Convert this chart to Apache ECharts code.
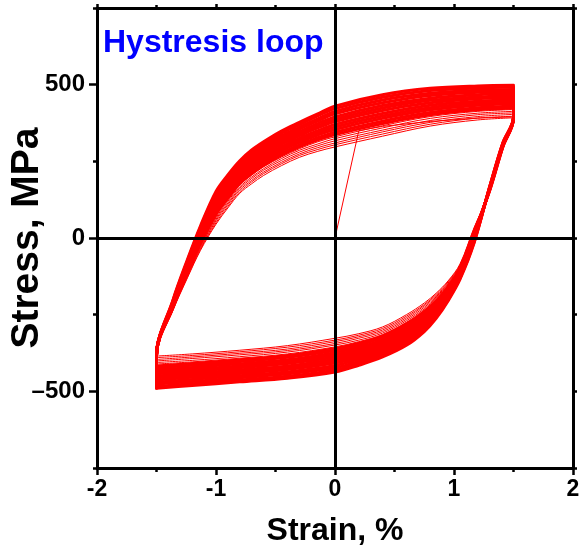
<!DOCTYPE html>
<html>
<head>
<meta charset="utf-8">
<script src="https://cdn.jsdelivr.net/npm/echarts@6/dist/echarts.min.js"></script>
<style>
  html, body { margin: 0; padding: 0; background: #fff; }
  #chart { width: 579px; height: 550px; }
</style>
</head>
<body>
<div id="chart"></div>
<script>
// ---- text ----
const titleText = 'Hystresis loop';
const xName = 'Strain, %';
const yName = 'Stress, MPa';
const yTickValues = [-500, 0, 500];

// ---- monotonic first loading from the origin ----
const initialStrain = [0, 0.2, 0.4, 0.8, 1.2, 1.5];
const initialStress = [0, 350, 364, 380, 391, 395];

// ---- strain stations of each branch ----
// rising branch: from the compressive end (-1.5 %) up to the tensile end
const strainUp = [-1.5, -1.36, -1.24, -1.13, -1.0, -0.9, -0.8, -0.7, -0.6, -0.45, -0.3, -0.15, 0, 0.4, 0.8, 1.2, 1.5];
// falling branch: from the tensile end (+1.5 %) down to the compressive end
const strainDown = [1.5, 1.41, 1.3, 1.17, 1.05, 0.95, 0.85, 0.75, 0.6, 0.4, 0.2, 0, -0.4, -0.8, -1.2, -1.5];

// ---- stress (MPa) per cycle, cycle 1 first ----
const stressDown = [
  [388, 290, 150, 35, -85, -140, -180, -212, -250, -290, -312, -327, -351, -366, -378, -385],
  [388, 291, 151, 33, -88, -143, -184, -217, -255, -295, -317, -333, -356, -371, -383, -390],
  [389, 292, 152, 30, -90, -147, -188, -221, -260, -300, -322, -338, -362, -376, -388, -396],
  [389, 293, 153, 28, -93, -150, -192, -226, -265, -305, -327, -344, -367, -381, -393, -401],
  [389, 294, 154, 25, -95, -153, -196, -231, -270, -310, -333, -349, -372, -387, -399, -406],
  [390, 295, 155, 23, -98, -156, -201, -235, -275, -315, -338, -355, -378, -392, -404, -411],
  [390, 296, 155, 20, -100, -160, -205, -240, -280, -319, -343, -360, -383, -397, -409, -417],
  [391, 297, 156, 17, -103, -163, -210, -246, -286, -325, -349, -367, -389, -403, -415, -423],
  [391, 299, 158, 14, -107, -168, -215, -252, -293, -332, -356, -374, -397, -410, -422, -430],
  [391, 300, 159, 11, -110, -172, -220, -258, -299, -338, -363, -381, -403, -417, -429, -436],
  [392, 301, 160, 8, -113, -176, -225, -263, -305, -344, -369, -388, -409, -423, -435, -443],
  [392, 302, 161, 4, -116, -180, -231, -270, -312, -351, -376, -395, -417, -430, -442, -450],
  [393, 304, 162, 1, -119, -184, -236, -275, -318, -357, -382, -402, -423, -436, -448, -456],
  [393, 305, 163, -2, -122, -188, -241, -281, -324, -363, -388, -408, -429, -442, -454, -463],
  [394, 306, 165, -6, -126, -193, -246, -287, -331, -369, -395, -416, -437, -449, -461, -470],
  [394, 307, 166, -9, -129, -197, -251, -293, -337, -375, -402, -423, -443, -456, -468, -476],
  [395, 309, 167, -12, -132, -201, -257, -299, -344, -382, -409, -430, -451, -463, -475, -484],
  [395, 310, 168, -15, -135, -205, -262, -305, -350, -388, -415, -437, -457, -469, -481, -490]
];
const stressUp = [
  [-380, -235, -130, -40, 45, 98, 146, 177, 204, 236, 263, 282, 297, 332, 365, 385, 392],
  [-380, -233, -127, -36, 50, 103, 151, 183, 210, 242, 269, 288, 304, 339, 371, 391, 397],
  [-381, -232, -124, -32, 56, 109, 157, 188, 215, 247, 274, 294, 310, 346, 377, 396, 403],
  [-381, -230, -121, -28, 61, 114, 162, 194, 221, 253, 280, 300, 317, 352, 383, 402, 408],
  [-381, -228, -118, -24, 66, 120, 167, 199, 226, 259, 286, 306, 324, 359, 390, 407, 413],
  [-381, -226, -115, -20, 72, 125, 173, 205, 232, 264, 291, 313, 330, 366, 396, 413, 419],
  [-382, -225, -112, -16, 77, 130, 178, 210, 237, 270, 297, 319, 337, 373, 402, 418, 424],
  [-382, -222, -108, -11, 84, 137, 184, 217, 244, 277, 304, 326, 345, 381, 409, 425, 430],
  [-382, -220, -104, -6, 91, 144, 192, 224, 251, 285, 312, 335, 354, 390, 418, 433, 438],
  [-382, -218, -101, -1, 97, 151, 198, 231, 258, 291, 318, 342, 362, 398, 425, 439, 444],
  [-383, -216, -97, 4, 104, 157, 204, 238, 265, 298, 325, 349, 370, 406, 433, 446, 450],
  [-383, -213, -93, 10, 111, 165, 212, 245, 272, 306, 333, 358, 380, 416, 441, 454, 458],
  [-383, -211, -89, 14, 118, 171, 218, 252, 279, 313, 340, 365, 387, 424, 449, 460, 464],
  [-384, -209, -86, 19, 124, 178, 224, 258, 285, 320, 347, 372, 395, 432, 456, 467, 470],
  [-384, -207, -81, 25, 132, 185, 232, 266, 293, 328, 355, 381, 405, 441, 465, 475, 478],
  [-384, -205, -78, 30, 138, 192, 238, 273, 300, 334, 361, 388, 413, 450, 472, 482, 484],
  [-385, -202, -74, 35, 146, 200, 246, 280, 307, 342, 369, 397, 422, 459, 481, 489, 492],
  [-385, -200, -70, 40, 152, 206, 252, 287, 314, 349, 377, 404, 430, 467, 488, 496, 498]
];

// ---- styling ----
const FONT = 'Arial, "Liberation Sans", sans-serif';
const RED = '#ff0000';
const BLACK = '#000000';
const EARLY_CYCLES = 6;   // first cycles stay apart as thin lines

const chart = echarts.init(document.getElementById('chart'), null, { renderer: 'canvas' });

function branch(points, width) {
  return {
    type: 'line',
    data: points,
    xAxisIndex: 0,
    yAxisIndex: 0,
    showSymbol: false,
    symbol: 'none',
    smooth: 0.35,
    silent: true,
    animation: false,
    z: 2,
    lineStyle: { color: RED, width: width, cap: 'round', join: 'round' }
  };
}

const series = [];
series.push(Object.assign(branch(initialStrain.map((x, i) => [x, initialStress[i]]), 1), { smooth: false }));

let prevPeak = initialStress[initialStress.length - 1];
stressDown.forEach((down, k) => {
  const up = stressUp[k];
  const w = k < EARLY_CYCLES ? 1 : 3;
  const downPts = [[strainDown[0], prevPeak]].concat(strainDown.map((x, i) => [x, down[i]]));
  const valley = down[down.length - 1];
  const upPts = [[strainUp[0], valley]].concat(strainUp.map((x, i) => [x, up[i]]));
  prevPeak = up[up.length - 1];
  series.push(branch(downPts, w));
  series.push(branch(upPts, w));
});

// zero lines through the origin
series.push({
  type: 'line',
  data: [],
  xAxisIndex: 0,
  yAxisIndex: 0,
  silent: true,
  animation: false,
  z: 5,
  markLine: {
    silent: true,
    symbol: 'none',
    animation: false,
    label: { show: false },
    lineStyle: { color: BLACK, width: 3, type: 'solid' },
    data: [{ yAxis: 0 }, { xAxis: 0 }]
  }
});

const frameLine = { show: true, onZero: false, lineStyle: { color: BLACK, width: 3 } };
const tickStyle = { color: BLACK, width: 2.5 };

const option = {
  backgroundColor: '#ffffff',
  animation: false,
  title: {
    text: titleText,
    left: 103,
    top: 27,
    padding: 0,
    textStyle: { color: '#0000ff', fontSize: 32, fontWeight: 'bold', fontFamily: FONT }
  },
  grid: { left: 97, right: 6, top: 8, bottom: 82, containLabel: false, outerBoundsMode: 'none' },
  xAxis: [
    {
      type: 'value', position: 'bottom', min: -2, max: 2, interval: 1,
      axisLine: frameLine,
      axisTick: { show: true, inside: false, length: 7, lineStyle: tickStyle },
      minorTick: { show: true, splitNumber: 2, length: 4, lineStyle: tickStyle },
      splitLine: { show: false },
      axisLabel: { color: BLACK, fontSize: 23, fontWeight: 'bold', fontFamily: FONT, margin: 10 },
      name: xName, nameLocation: 'middle', nameGap: 47, nameMoveOverlap: false,
      nameTextStyle: { color: BLACK, fontSize: 32, fontWeight: 'bold', fontFamily: FONT }
    },
    {
      type: 'value', position: 'top', min: -2, max: 2, interval: 1,
      axisLine: frameLine,
      axisTick: { show: true, inside: false, length: 4, lineStyle: tickStyle },
      minorTick: { show: true, splitNumber: 2, length: 3, lineStyle: tickStyle },
      splitLine: { show: false },
      axisLabel: { show: false }
    }
  ],
  yAxis: [
    {
      type: 'value', position: 'left', min: -750, max: 750, interval: 250,
      axisLine: frameLine,
      axisTick: { show: true, inside: false, length: 4, lineStyle: tickStyle },
      splitLine: { show: false },
      axisLabel: {
        customValues: yTickValues,
        formatter: v => String(v).replace('-', '\u2013'),
        color: BLACK, fontSize: 24, fontWeight: 'bold', fontFamily: FONT, margin: 12
      },
      name: yName, nameLocation: 'middle', nameGap: 50, nameMoveOverlap: false,
      nameTextStyle: { color: BLACK, fontSize: 39, fontWeight: 'bold', fontFamily: FONT }
    },
    {
      type: 'value', position: 'right', min: -750, max: 750, interval: 250,
      axisLine: frameLine,
      axisTick: { show: true, inside: false, length: 4, lineStyle: tickStyle },
      splitLine: { show: false },
      axisLabel: { show: false }
    },
    {
      type: 'value', position: 'left', min: -750, max: 750, interval: 250,
      axisLine: { show: false, onZero: false },
      axisTick: { show: true, inside: false, length: 8, customValues: yTickValues, lineStyle: tickStyle },
      splitLine: { show: false },
      axisLabel: { show: false }
    }
  ],
  series: series
};

chart.setOption(option);
</script>
</body>
</html>
